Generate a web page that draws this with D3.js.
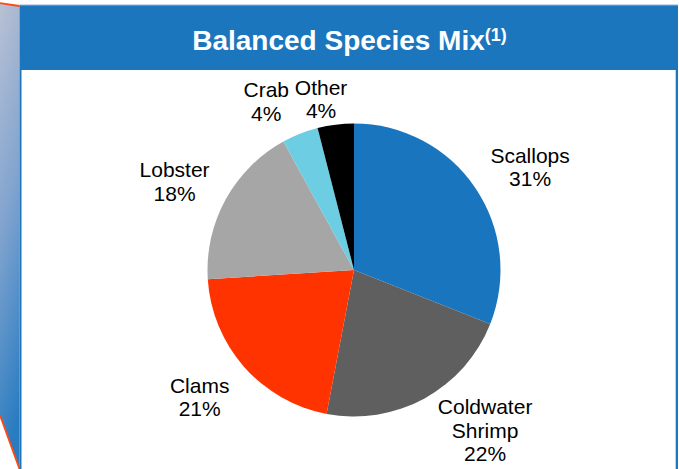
<!DOCTYPE html>
<html>
<head>
<meta charset="utf-8">
<script src="https://cdn.jsdelivr.net/npm/d3@7"></script>
<style>
  html, body { margin: 0; padding: 0; background: #ffffff; }
  svg { display: block; }
  text { font-family: "Liberation Sans", Arial, Helvetica, sans-serif; }
</style>
</head>
<body>
<svg id="chart" width="679" height="469"></svg>
<script>
// Species mix, share of total (%)
const species = ["Scallops", "Coldwater Shrimp", "Clams", "Lobster", "Crab", "Other"];
const shares  = [31, 22, 21, 18, 4, 4];
const labelLines = [["Scallops"], ["Coldwater", "Shrimp"], ["Clams"], ["Lobster"], ["Crab"], ["Other"]];
const titleText = "Balanced Species Mix";
const titleNote = "(1)";

const colors = ["#1a75bf", "#5f5f5f", "#ff3300", "#a6a6a6", "#6ccde3", "#000000"];

// label placement: angular offset (deg) from slice middle, and distance from centre
const labelLayout = {
  "Scallops":         { da: 3.9,   r: 204 },
  "Coldwater Shrimp": { da: -10.5, r: 207 },
  "Clams":            { da: 1.9,   r: 200 },
  "Lobster":          { da: -2.6,  r: 200 },
  "Crab":             { da: -5.9,  r: 190 },
  "Other":            { da: -3.7,  r: 174 }
};

const svg = d3.select("#chart");
const defs = svg.append("defs");

// side ribbon gradient
const grad = defs.append("linearGradient")
  .attr("id", "ribbon").attr("x1", "0").attr("y1", "0").attr("x2", "0.15").attr("y2", "1");
grad.append("stop").attr("offset", "0").attr("stop-color", "#bac1d4");
grad.append("stop").attr("offset", "0.5").attr("stop-color", "#7fa3cf");
grad.append("stop").attr("offset", "1").attr("stop-color", "#2a7cc1");

// side ribbon
svg.append("path")
  .attr("d", d3.line()([[0, 3], [19.5, 6], [19.5, 469], [0, 416]]) + "Z")
  .attr("fill", "url(#ribbon)");
svg.append("path")
  .attr("d", d3.line()([[0, 3.2], [19.5, 6]]))
  .attr("stroke", "#ff4a12").attr("stroke-width", 1.8).attr("fill", "none");
svg.append("path")
  .attr("d", d3.line()([[0, 415], [19.5, 469]]))
  .attr("stroke", "#ff4a12").attr("stroke-width", 1.8).attr("fill", "none");

// panel: blue frame and header, white body
svg.append("rect").attr("x", 19.5).attr("y", 5).attr("width", 658.5).attr("height", 470)
  .attr("fill", "#1b76bd");
svg.append("rect").attr("x", 19.5).attr("y", 4.5).attr("width", 658.5).attr("height", 1)
  .attr("fill", "#8fb4d8");
svg.append("rect").attr("x", 21.5).attr("y", 70).attr("width", 654.2).attr("height", 400)
  .attr("fill", "#ffffff");

// title
const title = svg.append("text")
  .attr("x", 349.5).attr("y", 50)
  .attr("text-anchor", "middle")
  .attr("fill", "#ffffff")
  .attr("font-weight", "bold")
  .attr("font-size", 28);
title.append("tspan").text(titleText);
title.append("tspan").attr("font-size", 18).attr("dy", -9).text(titleNote);

// pie
const cx = 354, cy = 270, radius = 146.5;
const data = species.map((s, i) => ({ name: s, value: shares[i], lines: labelLines[i], color: colors[i] }));
const pie = d3.pie().value(d => d.value).sort(null);
const arc = d3.arc().innerRadius(0).outerRadius(radius);
const arcs = pie(data);

const g = svg.append("g").attr("transform", `translate(${cx},${cy})`);
g.selectAll("path.slice")
  .data(arcs)
  .join("path")
  .attr("class", "slice")
  .attr("d", arc)
  .attr("fill", d => d.data.color);

// labels
const fontSize = 21, lineH = 23.7;
arcs.forEach(d => {
  const lay = labelLayout[d.data.name];
  const a = (d.startAngle + d.endAngle) / 2 + lay.da * Math.PI / 180;
  const x = Math.sin(a) * lay.r;
  const y = -Math.cos(a) * lay.r;
  const lines = d.data.lines.concat([d.data.value + "%"]);
  const n = lines.length;
  const t = g.append("text")
    .attr("text-anchor", "middle")
    .attr("font-size", fontSize)
    .attr("fill", "#000000");
  lines.forEach((ln, i) => {
    t.append("tspan")
      .attr("x", x)
      .attr("y", y + (i - (n - 1) / 2) * lineH + fontSize * 0.35)
      .text(ln);
  });
});
</script>
</body>
</html>
